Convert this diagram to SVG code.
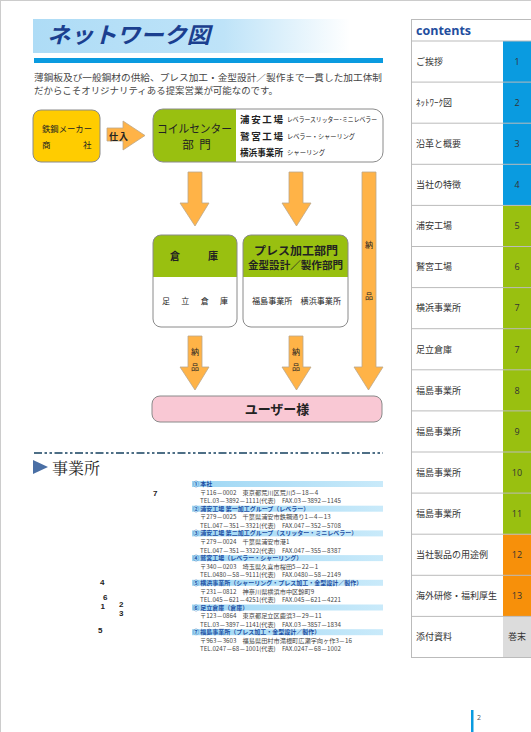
<svg xmlns="http://www.w3.org/2000/svg" width="531" height="732" viewBox="0 0 531 732">
<defs>
<linearGradient id="titleGrad" x1="0" y1="0" x2="1" y2="0">
<stop offset="0" stop-color="#AEDCF6"/>
<stop offset="0.6" stop-color="#BEE3F8"/>
<stop offset="1" stop-color="#FFFFFF"/>
</linearGradient>
<linearGradient id="barGrad" x1="0" y1="0" x2="1" y2="0">
<stop offset="0" stop-color="#9FD7F4"/>
<stop offset="1" stop-color="#C9EAFA"/>
</linearGradient>
</defs>
<style>
text{font-family:'Noto Sans CJK JP',sans-serif;fill:#222}
.arrow{fill:#FFB347;stroke:#BBA78A;stroke-width:0.8}
.box{stroke:#8A8A8A;stroke-width:1}
.green{fill:#99C010}
.lbl{font-size:9px;fill:#333}
.num{font-size:9px;fill:#333;text-anchor:middle;font-family:'Open Sans','Noto Sans CJK JP',sans-serif}
.sep{stroke:#BBBBBB;stroke-width:1}
.hd{font-size:6px;font-weight:bold;fill:#1E4FA3}
.ad{font-size:6.2px;fill:#444}
.mapn{font-size:8px;font-weight:bold;font-family:'Liberation Sans',sans-serif;fill:#222}
.sm{font-size:8px;fill:#222}
.intro{font-size:9px;fill:#444}
</style>
<rect x="0.5" y="0.5" width="540" height="740" fill="#FFFFFF" stroke="#CCCCCC" stroke-width="1"/>

<!-- Title -->
<g id="title">
<rect x="33" y="19" width="317" height="34" fill="url(#titleGrad)"/>
<text x="47" y="43" font-size="22" font-style="italic" font-weight="bold" style="fill:#1B3F8F" textLength="163" lengthAdjust="spacingAndGlyphs">ネットワーク図</text>
<rect x="34" y="58" width="349" height="5" fill="#0A9BE0"/>
<text x="34" y="80.5" class="intro" textLength="348" lengthAdjust="spacingAndGlyphs">薄鋼板及び一般鋼材の供給、プレス加工・金型設計／製作まで一貫した加工体制</text>
<text x="34" y="94" class="intro" textLength="244" lengthAdjust="spacingAndGlyphs">だからこそオリジナリティある提案営業が可能なのです。</text>
</g>

<!-- Connectors -->
<g id="connectors">
<polygon class="arrow" points="107,128 123,128 123,121 145,135.5 123,150 123,141 107,141"/>
<text x="109" y="139.5" font-size="9" font-weight="bold" textLength="19">仕入</text>
<polygon class="arrow" points="188,172 202,172 202,203 209,203 195,226 180,203 188,203"/>
<polygon class="arrow" points="289,172 303,172 303,203 311,203 296.5,226 282,203 289,203"/>
<polygon class="arrow" points="362,172 376,172 376,367 383,367 368.5,390 354,367 362,367"/>
<text x="369" y="248" class="sm" text-anchor="middle">納</text>
<text x="369" y="299" class="sm" text-anchor="middle">品</text>
<polygon class="arrow" points="188,336 202,336 202,367 209,367 195,390 180,367 188,367"/>
<text x="195" y="355" class="sm" text-anchor="middle">納</text>
<text x="195" y="370" class="sm" text-anchor="middle">品</text>
<polygon class="arrow" points="289,336 303,336 303,367 311,367 296.5,390 282,367 289,367"/>
<text x="296" y="355" class="sm" text-anchor="middle">納</text>
<text x="296" y="370" class="sm" text-anchor="middle">品</text>
</g>

<!-- Nodes -->
<g id="maker">
<rect class="box" x="33" y="110" width="67" height="52" rx="8" fill="#FFCC00"/>
<text x="42" y="132" font-size="8.5" textLength="50" lengthAdjust="spacingAndGlyphs">鉄鋼メーカー</text>
<text x="42" y="147.5" font-size="8.5">商</text>
<text x="83" y="147.5" font-size="8.5">社</text>
</g>

<g id="coil">
<rect x="153" y="109" width="230" height="53" rx="10" fill="#FFFFFF"/>
<path class="green" d="M236,109 H163 A10,10 0 0 0 153,119 V152 A10,10 0 0 0 163,162 H236 Z"/>
<rect class="box" x="153" y="109" width="230" height="53" rx="10" fill="none"/>
<text x="157" y="133" font-size="11.5" textLength="75" lengthAdjust="spacingAndGlyphs">コイルセンター</text>
<text x="188" y="148.5" font-size="11.5" text-anchor="middle">部</text>
<text x="205" y="148.5" font-size="11.5" text-anchor="middle">門</text>
<text x="240" y="123" font-size="9.5" font-weight="bold" textLength="43" lengthAdjust="spacing">浦 安 工 場</text>
<text x="287" y="122" font-size="6.5" textLength="90" lengthAdjust="spacingAndGlyphs">レベラースリッター･ミニレベラー</text>
<text x="240" y="140" font-size="9.5" font-weight="bold" textLength="43" lengthAdjust="spacing">鷲 宮 工 場</text>
<text x="287" y="139" font-size="6.5" textLength="68" lengthAdjust="spacingAndGlyphs">レベラー・シャーリング</text>
<text x="240" y="156" font-size="9" font-weight="bold" textLength="43" lengthAdjust="spacingAndGlyphs">横浜事業所</text>
<text x="287" y="155" font-size="6.5" textLength="38" lengthAdjust="spacingAndGlyphs">シャーリング</text>
</g>

<g id="warehouse">
<rect x="153" y="235" width="84" height="92" rx="8" fill="#FFFFFF"/>
<path class="green" d="M153,277 V243 A8,8 0 0 1 161,235 H229 A8,8 0 0 1 237,243 V277 Z"/>
<rect class="box" x="153" y="235" width="84" height="92" rx="8" fill="none"/>
<text x="170" y="260" font-size="10" font-weight="bold">倉</text>
<text x="208" y="260" font-size="10" font-weight="bold">庫</text>
<text x="162" y="304" font-size="8" textLength="66" lengthAdjust="spacing">足　立　倉　庫</text>
</g>

<g id="press">
<rect x="243" y="235" width="105" height="92" rx="8" fill="#FFFFFF"/>
<path class="green" d="M243,277 V243 A8,8 0 0 1 251,235 H340 A8,8 0 0 1 348,243 V277 Z"/>
<rect class="box" x="243" y="235" width="105" height="92" rx="8" fill="none"/>
<text x="254" y="254.5" font-size="11.5" font-weight="bold" textLength="84" lengthAdjust="spacingAndGlyphs">プレス加工部門</text>
<text x="248" y="268.5" font-size="10.5" font-weight="bold" textLength="95" lengthAdjust="spacingAndGlyphs">金型設計／製作部門</text>
<text x="252" y="304" font-size="8" textLength="89" lengthAdjust="spacingAndGlyphs">福島事業所　横浜事業所</text>
</g>

<g id="user">
<rect class="box" x="152" y="396" width="230" height="26" rx="8" fill="#F9C8D4"/>
<text x="277" y="413.5" font-size="13" font-weight="bold" text-anchor="middle">ユーザー様</text>
</g>

<!-- Offices section -->
<g id="offices-heading">
<line x1="34" y1="453" x2="383" y2="453" stroke="#4E6F86" stroke-width="2" stroke-dasharray="8 2.5 2.5 2.5 2.5 2.5"/>
<polygon points="33,460 48,467 33,474" fill="#4A6FA5"/>
<text x="52" y="474" font-size="16" style="font-family:'Liberation Serif','Noto Serif CJK JP','Noto Sans CJK JP',serif">事業所</text>
</g>

<g id="map-numbers">
<text class="mapn" x="153" y="496">7</text>
<text class="mapn" x="100" y="585">4</text>
<text class="mapn" x="103" y="600">6</text>
<text class="mapn" x="100.5" y="609">1</text>
<text class="mapn" x="119" y="607">2</text>
<text class="mapn" x="119" y="616">3</text>
<text class="mapn" x="98" y="633">5</text>
</g>

<g id="office-list">
<rect x="192" y="481" width="191" height="6" fill="url(#barGrad)"/>
<text class="hd" x="193" y="486">① 本社</text>
<text class="ad" x="200" y="494.7">〒116－0002　東京都荒川区荒川5－18－4</text>
<text class="ad" x="200" y="503.2">TEL.03－3892－1111(代表)　FAX.03－3892－1145</text>

<rect x="192" y="505.7" width="191" height="6" fill="url(#barGrad)"/>
<text class="hd" x="193" y="510.7">② 浦安工場 第一加工グループ（レベラー）</text>
<text class="ad" x="200" y="519.4">〒279－0025　千葉県浦安市鉄鋼通り1－4－13</text>
<text class="ad" x="200" y="527.9">TEL.047－351－3321(代表)　FAX.047－352－5708</text>

<rect x="192" y="530.4" width="191" height="6" fill="url(#barGrad)"/>
<text class="hd" x="193" y="535.4">③ 浦安工場 第二加工グループ（スリッター・ミニレベラー）</text>
<text class="ad" x="200" y="544.1">〒279－0024　千葉県浦安市港1</text>
<text class="ad" x="200" y="552.6">TEL.047－351－3322(代表)　FAX.047－355－8387</text>

<rect x="192" y="555.1" width="191" height="6" fill="url(#barGrad)"/>
<text class="hd" x="193" y="560.1">④ 鷲宮工場（レベラー・シャーリング）</text>
<text class="ad" x="200" y="568.8">〒340－0203　埼玉県久喜市桜田5－22－1</text>
<text class="ad" x="200" y="577.3">TEL.0480－58－9111(代表)　FAX.0480－58－2149</text>

<rect x="192" y="579.8" width="191" height="6" fill="url(#barGrad)"/>
<text class="hd" x="193" y="584.8">⑤ 横浜事業所（シャーリング・プレス加工・金型設計／製作）</text>
<text class="ad" x="200" y="593.5">〒231－0812　神奈川県横浜市中区錦町9</text>
<text class="ad" x="200" y="602">TEL.045－621－4251(代表)　FAX.045－621－4221</text>

<rect x="192" y="604.5" width="191" height="6" fill="url(#barGrad)"/>
<text class="hd" x="193" y="609.5">⑥ 足立倉庫（倉庫）</text>
<text class="ad" x="200" y="618.2">〒123－0864　東京都足立区鹿浜3－29－11</text>
<text class="ad" x="200" y="626.7">TEL.03－3897－1141(代表)　FAX.03－3857－1834</text>

<rect x="192" y="629.2" width="191" height="6" fill="url(#barGrad)"/>
<text class="hd" x="193" y="634.2">⑦ 福島事業所（プレス加工・金型設計／製作）</text>
<text class="ad" x="200" y="642.9">〒963－3603　福島県田村市滝根町広瀬字向ヶ作3－16</text>
<text class="ad" x="200" y="651.4">TEL.0247－68－1001(代表)　FAX.0247－68－1002</text>
</g>

<!-- Sidebar contents -->
<g id="contents">
<rect x="411" y="19" width="121" height="638.5" fill="#FFFFFF"/>
<rect x="503" y="41" width="28" height="164.4" fill="#0A9BE0"/>
<rect x="503" y="205.4" width="28" height="328.8" fill="#99C010"/>
<rect x="503" y="534.2" width="28" height="82.2" fill="#F7900A"/>
<rect x="503" y="616.4" width="28" height="41.1" fill="#DCDCDC"/>
<line class="sep" x1="411" y1="19.5" x2="531" y2="19.5"/>
<line class="sep" x1="411.5" y1="19" x2="411.5" y2="657.5"/>
<text x="416" y="34.5" font-size="12.5" font-weight="bold" style="fill:#1F4E9E;font-family:'Open Sans','Noto Sans',sans-serif">contents</text>
<line class="sep" x1="411" y1="41" x2="531" y2="41"/>
<line class="sep" x1="411" y1="82.1" x2="531" y2="82.1"/>
<line class="sep" x1="411" y1="123.2" x2="531" y2="123.2"/>
<line class="sep" x1="411" y1="164.3" x2="531" y2="164.3"/>
<line class="sep" x1="411" y1="205.4" x2="531" y2="205.4"/>
<line class="sep" x1="411" y1="246.5" x2="531" y2="246.5"/>
<line class="sep" x1="411" y1="287.6" x2="531" y2="287.6"/>
<line class="sep" x1="411" y1="328.7" x2="531" y2="328.7"/>
<line class="sep" x1="411" y1="369.8" x2="531" y2="369.8"/>
<line class="sep" x1="411" y1="410.9" x2="531" y2="410.9"/>
<line class="sep" x1="411" y1="452" x2="531" y2="452"/>
<line class="sep" x1="411" y1="493.1" x2="531" y2="493.1"/>
<line class="sep" x1="411" y1="534.2" x2="531" y2="534.2"/>
<line class="sep" x1="411" y1="575.3" x2="531" y2="575.3"/>
<line class="sep" x1="411" y1="616.4" x2="531" y2="616.4"/>
<line class="sep" x1="411" y1="657.5" x2="531" y2="657.5"/>

<text class="lbl" x="416" y="64.8">ご挨拶</text><text class="num" x="517" y="64.8">1</text>
<text class="lbl" x="416" y="105.9">ﾈｯﾄﾜｰｸ図</text><text class="num" x="517" y="105.9">2</text>
<text class="lbl" x="416" y="147">沿革と概要</text><text class="num" x="517" y="147">3</text>
<text class="lbl" x="416" y="188.1">当社の特徴</text><text class="num" x="517" y="188.1">4</text>
<text class="lbl" x="416" y="229.2">浦安工場</text><text class="num" x="517" y="229.2">5</text>
<text class="lbl" x="416" y="270.3">鷲宮工場</text><text class="num" x="517" y="270.3">6</text>
<text class="lbl" x="416" y="311.4">横浜事業所</text><text class="num" x="517" y="311.4">7</text>
<text class="lbl" x="416" y="352.5">足立倉庫</text><text class="num" x="517" y="352.5">7</text>
<text class="lbl" x="416" y="393.6">福島事業所</text><text class="num" x="517" y="393.6">8</text>
<text class="lbl" x="416" y="434.7">福島事業所</text><text class="num" x="517" y="434.7">9</text>
<text class="lbl" x="416" y="475.8">福島事業所</text><text class="num" x="517" y="475.8">10</text>
<text class="lbl" x="416" y="516.9">福島事業所</text><text class="num" x="517" y="516.9">11</text>
<text class="lbl" x="416" y="558">当社製品の用途例</text><text class="num" x="517" y="558">12</text>
<text class="lbl" x="416" y="599.1">海外研修・福利厚生</text><text class="num" x="517" y="599.1">13</text>
<text class="lbl" x="416" y="640.2">添付資料</text><text class="num" x="517" y="640.2">巻末</text>
</g>

<g id="page-number">
<rect x="471" y="710" width="2.5" height="22" fill="#0A9BE0"/>
<text x="477" y="719.5" font-size="7" style="fill:#555;font-family:'Open Sans',sans-serif">2</text>
</g>
</svg>
